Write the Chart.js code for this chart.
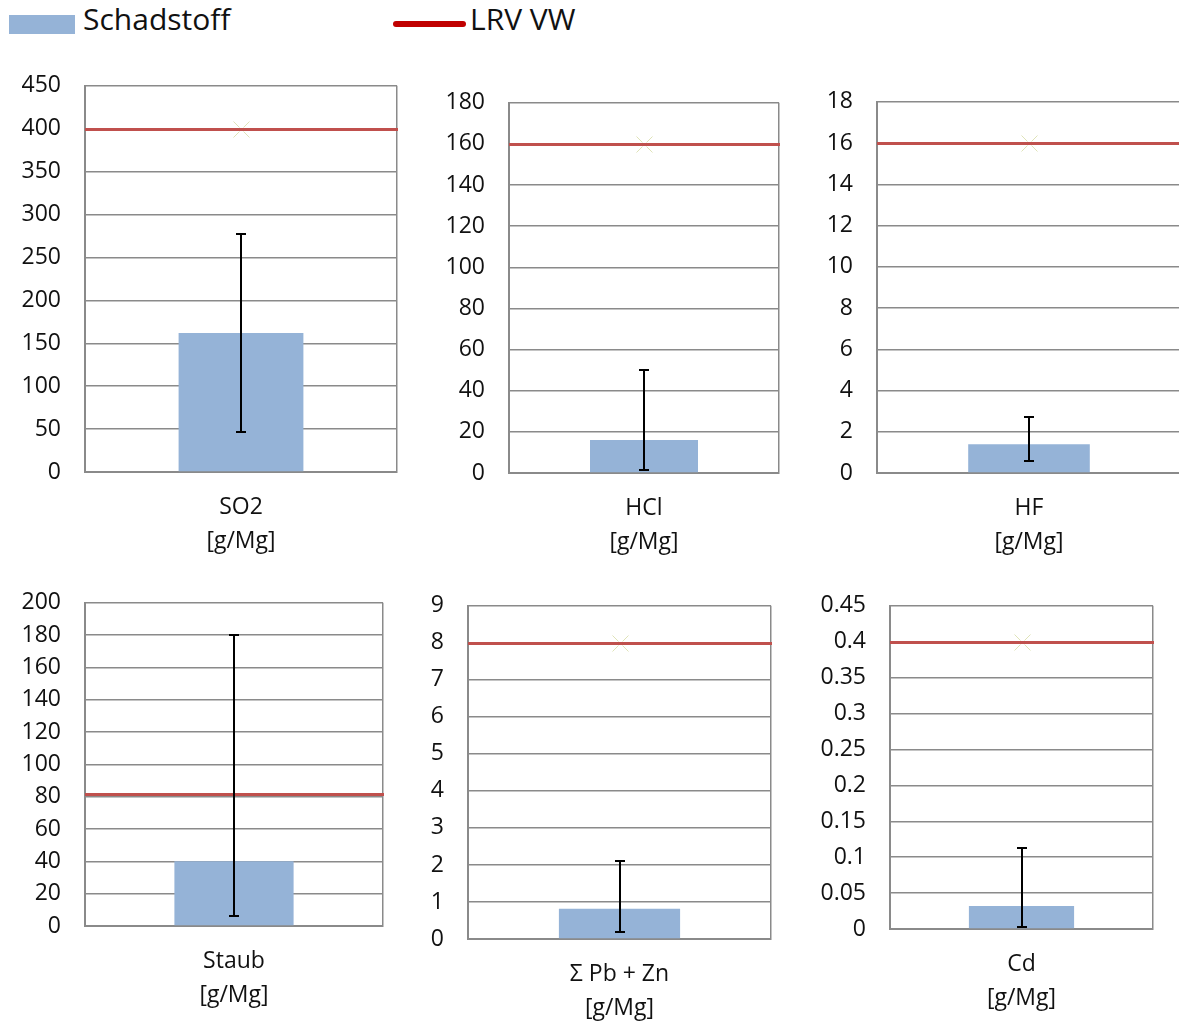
<!DOCTYPE html>
<html>
<head>
<meta charset="utf-8">
<script src="https://cdn.jsdelivr.net/npm/chart.js@4"></script>
<style>
  html, body { margin: 0; padding: 0; background: #fff; overflow: hidden; }
  body { width: 1179px; height: 1021px; position: relative; font-family: "Open Sans", sans-serif; }
  .box { position: absolute; line-height: 0; }
  .box canvas { display: block; }
  .legend { position: absolute; top: 4px; left: 0; height: 40px; font-size: 30px; color: #111; }
  .legend span { position: absolute; white-space: nowrap; line-height: 1.2; }
</style>
</head>
<body>

<div class="legend">
  <span style="left:9px; top:11px; width:66px; height:19px; background:#95b3d7;"></span>
  <span style="left:83px; top:-3px;">Schadstoff</span>
  <span style="left:393px; top:17px; width:73px; height:6px; border-radius:3px; background:#c00000;"></span>
  <span style="left:470px; top:-3px;">LRV VW</span>
</div>

<script>
// pollutants, one small chart each
const categories = ["SO2", "HCl", "HF", "Staub", "Σ Pb + Zn", "Cd"];
const unit = "[g/Mg]";

// bar value (Schadstoff) and error bar range
const values  = [162, 16, 1.4, 40, 0.82, 0.032];
const errLow  = [47, 1.5, 0.6, 6, 0.19, 0.003];
const errHigh = [277, 50, 2.7, 180, 2.1, 0.113];

// limit value (LRV VW)
const limits = [400, 160, 16, 81.5, 8, 0.4];

// y axis of each chart
const axisMax  = [450, 180, 18, 200, 9, 0.45];
const axisStep = [50, 20, 2, 20, 1, 0.05];

// plot area of each chart on the page: left, top, right, bottom
const plots = [
  [85, 86, 397, 472],
  [509, 103, 779, 473],
  [877, 102, 1181, 473],
  [85, 603, 383, 926],
  [468, 606, 771, 939],
  [890, 606, 1153, 929]
];
// the faint x marker on the limit line (not shown on the Staub chart)
const markerShown = [true, true, true, false, true, true];

const FONT = "'Open Sans', 'Liberation Sans', sans-serif";
const GRID = "#8a8a8a";
const Y_W = 80, X_H = 85, PAD_T = 15, PAD_R = 10;

// limit line + its faint marker, placed with the y scale
const limitLine = {
  id: "limitLine",
  afterDatasetsDraw(chart) {
    const i = chart.options.plugins.limitLine.index;
    const area = chart.chartArea;
    const y = Math.round(chart.scales.y.getPixelForValue(limits[i])) + 0.5;
    const cx = Math.round(chart.scales.x.getPixelForValue(0)) + 0.5;
    const ctx = chart.ctx;
    ctx.save();
    ctx.strokeStyle = "#c0504d";
    ctx.lineWidth = 3;
    ctx.beginPath();
    ctx.moveTo(area.left, y);
    ctx.lineTo(area.right + 1, y);
    ctx.stroke();
    if (markerShown[i]) {
      ctx.strokeStyle = "#dfe3b8";
      ctx.lineWidth = 1;
      ctx.beginPath();
      ctx.moveTo(cx - 8, y - 8); ctx.lineTo(cx - 2, y - 2);
      ctx.moveTo(cx + 2, y + 2); ctx.lineTo(cx + 8, y + 8);
      ctx.moveTo(cx - 8, y + 8); ctx.lineTo(cx - 2, y + 2);
      ctx.moveTo(cx + 2, y - 2); ctx.lineTo(cx + 8, y - 8);
      ctx.stroke();
    }
    ctx.restore();
  }
};

// black whiskers through the y scale
const errorBars = {
  id: "errorBars",
  afterDatasetsDraw(chart) {
    const i = chart.options.plugins.errorBars.index;
    const y = chart.scales.y;
    const bar = chart.getDatasetMeta(0).data[0];
    const ctx = chart.ctx;
    const x = Math.round(bar.x);
    const top = Math.round(y.getPixelForValue(errHigh[i]));
    const bot = Math.round(y.getPixelForValue(errLow[i]));
    ctx.save();
    ctx.strokeStyle = "#000";
    ctx.lineWidth = 2;
    ctx.beginPath();
    ctx.moveTo(x, top); ctx.lineTo(x, bot);
    ctx.moveTo(x - 5, top); ctx.lineTo(x + 5, top);
    ctx.moveTo(x - 5, bot); ctx.lineTo(x + 5, bot);
    ctx.stroke();
    ctx.restore();
  }
};

function makeChart(i) {
  const [l, t, r, b] = plots[i];
  const w = (r - l) + Y_W + PAD_R;
  const h = (b - t) + PAD_T + X_H;

  const box = document.createElement("div");
  box.className = "box";
  const canvas = document.createElement("canvas");
  canvas.width = w;
  canvas.height = h;
  canvas.style.width = w + "px";
  canvas.style.height = h + "px";
  box.appendChild(canvas);
  document.body.appendChild(box);

  const chart = new Chart(canvas.getContext("2d"), {
    type: "bar",
    data: {
      labels: [[categories[i], unit]],
      datasets: [{
        label: "Schadstoff",
        data: [values[i]],
        backgroundColor: "#95b3d7",
        barPercentage: 0.4,
        categoryPercentage: 1
      }]
    },
    options: {
      responsive: false,
      maintainAspectRatio: false,
      animation: false,
      layout: { padding: { left: 0, top: PAD_T, right: PAD_R, bottom: 0 } },
      plugins: {
        legend: { display: false },
        tooltip: { enabled: false },
        limitLine: { index: i },
        errorBars: { index: i }
      },
      scales: {
        x: {
          grid: { display: true, offset: true, drawTicks: false, color: GRID, lineWidth: 1.5 },
          border: { display: true, color: GRID, width: 2 },
          ticks: {
            padding: 19,
            maxRotation: 0,
            color: "#111",
            font: { family: FONT, size: 23, lineHeight: 1.45 }
          },
          afterFit(axis) { axis.height = X_H; }
        },
        y: {
          min: 0,
          max: axisMax[i],
          grid: { drawTicks: false, color: GRID, lineWidth: 1.5 },
          border: { display: true, color: GRID, width: 2 },
          ticks: {
            stepSize: axisStep[i],
            autoSkip: false,
            padding: 24,
            color: "#111",
            font: { family: FONT, size: 23 },
            callback: v => String(parseFloat(Number(v).toFixed(4)))
          },
          afterFit(axis) { axis.width = Y_W; }
        }
      }
    },
    plugins: [limitLine, errorBars]
  });

  // grow the canvas so the plot area gets the wanted size, then place it
  const a = chart.chartArea;
  const w2 = w + (r - l) - Math.round(a.right - a.left);
  const h2 = h + (b - t) - Math.round(a.bottom - a.top);
  canvas.style.width = w2 + "px";
  canvas.style.height = h2 + "px";
  chart.resize(w2, h2);
  const a2 = chart.chartArea;
  box.style.left = (l - Math.round(a2.left)) + "px";
  box.style.top = (t - Math.round(a2.top)) + "px";
}

categories.forEach((_, i) => makeChart(i));
</script>
</body>
</html>
